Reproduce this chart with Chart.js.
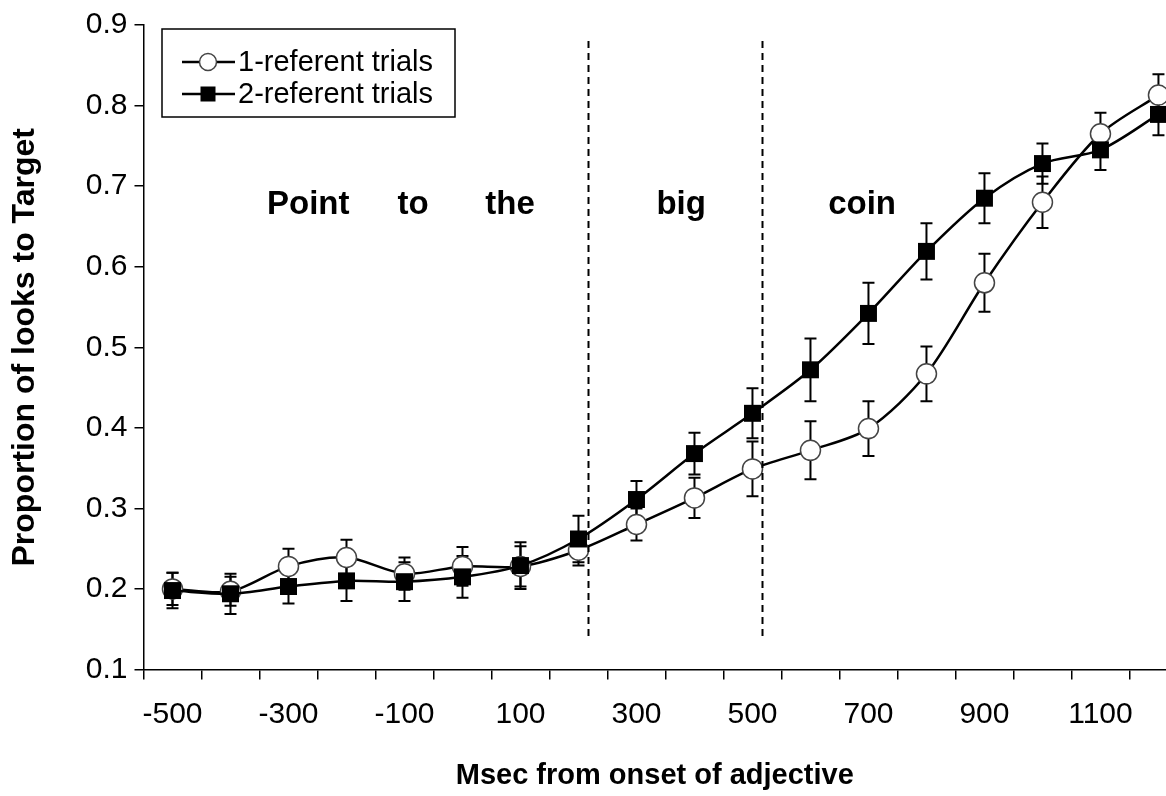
<!DOCTYPE html>
<html><head><meta charset="utf-8">
<script src="https://cdn.jsdelivr.net/npm/chart.js@4"></script>
<style>html,body{margin:0;padding:0;background:#fff;overflow:hidden}#wrap{width:1166px;height:796px;position:relative}canvas{display:block}</style>
</head><body><div id="wrap"><canvas id="c" width="1166" height="796" style="width:1166px;height:796px"></canvas></div>
<script>
// ---- data ----
const timePoints = [-500,-400,-300,-200,-100,0,100,200,300,400,500,600,700,800,900,1000,1100,1200];
const oneRefMeans = [0.200,0.197,0.228,0.239,0.219,0.228,0.228,0.248,0.280,0.313,0.349,0.372,0.399,0.467,0.580,0.680,0.765,0.813];
const oneRefErr   = [0.020,0.018,0.022,0.022,0.020,0.024,0.025,0.019,0.020,0.025,0.034,0.036,0.034,0.034,0.036,0.032,0.026,0.026];
const twoRefMeans = [0.198,0.194,0.203,0.210,0.209,0.215,0.229,0.262,0.311,0.368,0.418,0.472,0.542,0.619,0.685,0.728,0.745,0.789];
const twoRefErr   = [0.022,0.025,0.021,0.025,0.024,0.026,0.029,0.029,0.023,0.026,0.031,0.039,0.038,0.035,0.031,0.025,0.025,0.026];
const seriesNames = ['1-referent trials','2-referent trials'];
const xTickLabels = [-500,-300,-100,100,300,500,700,900,1100];
const xTickBoundaries = [-550,-450,-350,-250,-150,-50,50,150,250,350,450,550,650,750,850,950,1050,1150];
const yTickValues = [0.1,0.2,0.3,0.4,0.5,0.6,0.7,0.8,0.9];
const wordLabels = ['Point','to','the','big','coin'];
const wordPositions = [-266,-85,82,377,689];
const wordLevel = 0.677;
const regionBoundaries = [216,516];
const boundaryRange = [0.141,0.88];
const xTitle = 'Msec from onset of adjective';
const yTitle = 'Proportion of looks to Target';

const FONT = '"Liberation Sans", Arial, Helvetica, sans-serif';
const errs = [oneRefErr, twoRefErr];

const errorBarPlugin = {
  id: 'errorBars',
  beforeDatasetsDraw(chart) {
    const {ctx, scales:{x, y}} = chart;
    ctx.save();
    ctx.strokeStyle = '#000';
    ctx.lineWidth = 2;
    chart.data.datasets.forEach((ds, di) => {
      ds.data.forEach((p, i) => {
        const e = errs[di][i];
        const px = x.getPixelForValue(p.x);
        const yt = y.getPixelForValue(p.y + e);
        const yb = y.getPixelForValue(p.y - e);
        ctx.beginPath();
        ctx.moveTo(px, yt); ctx.lineTo(px, yb);
        ctx.moveTo(px - 6, yt); ctx.lineTo(px + 6, yt);
        ctx.moveTo(px - 6, yb); ctx.lineTo(px + 6, yb);
        ctx.stroke();
      });
    });
    ctx.restore();
  }
};

const annotationPlugin = {
  id: 'annot',
  afterDatasetsDraw(chart) {
    const {ctx, scales:{x, y}} = chart;
    ctx.save();
    ctx.strokeStyle = '#000';
    ctx.lineWidth = 2;
    ctx.setLineDash([7, 5]);
    regionBoundaries.forEach(b => {
      const px = Math.round(x.getPixelForValue(b)) + 0.5;
      ctx.beginPath();
      ctx.moveTo(px, y.getPixelForValue(boundaryRange[1]));
      ctx.lineTo(px, y.getPixelForValue(boundaryRange[0]));
      ctx.stroke();
    });
    ctx.setLineDash([]);
    ctx.fillStyle = '#000';
    ctx.font = 'bold 33px ' + FONT;
    ctx.textAlign = 'center';
    ctx.textBaseline = 'middle';
    wordLabels.forEach((w, i) => {
      ctx.fillText(w, x.getPixelForValue(wordPositions[i]), y.getPixelForValue(wordLevel));
    });
    ctx.restore();
  },
  afterDraw(chart) {
    const {ctx} = chart;
    ctx.save();
    // legend box
    ctx.strokeStyle = '#000';
    ctx.lineWidth = 1.5;
    ctx.fillStyle = '#fff';
    ctx.fillRect(162, 29, 293, 88);
    ctx.strokeRect(162, 29, 293, 88);
    const rows = [62, 94];
    chart.data.datasets.forEach((ds, i) => {
      const yy = rows[i];
      ctx.strokeStyle = '#000';
      ctx.lineWidth = 2.5;
      ctx.beginPath(); ctx.moveTo(182, yy); ctx.lineTo(235, yy); ctx.stroke();
      if (i === 0) {
        ctx.beginPath(); ctx.arc(208, yy, 8.5, 0, Math.PI*2);
        ctx.fillStyle = '#fff'; ctx.fill();
        ctx.lineWidth = 1.5; ctx.strokeStyle = '#444'; ctx.stroke();
      } else {
        ctx.fillStyle = '#000';
        ctx.fillRect(208 - 7.5, yy - 7.5, 15, 15);
      }
      ctx.fillStyle = '#000';
      ctx.font = '29px ' + FONT;
      ctx.textAlign = 'left';
      ctx.textBaseline = 'middle';
      ctx.fillText(seriesNames[i], 238, yy + 1);
    });
    ctx.restore();
  }
};

const chart = new Chart(document.getElementById('c'), {
  type: 'line',
  data: {
    datasets: [
      {
        label: seriesNames[0],
        data: timePoints.map((t, i) => ({x: t, y: oneRefMeans[i]})),
        borderColor: '#000', borderWidth: 2.5,
        pointStyle: 'circle', pointRadius: 10, pointBackgroundColor: '#fff',
        pointBorderColor: '#444', pointBorderWidth: 1.5,
        tension: 0.3, clip: false, order: 2
      },
      {
        label: seriesNames[1],
        data: timePoints.map((t, i) => ({x: t, y: twoRefMeans[i]})),
        borderColor: '#000', borderWidth: 2.5,
        pointStyle: 'rect', pointRadius: 12, pointBackgroundColor: '#000',
        pointBorderColor: '#000', pointBorderWidth: 0,
        tension: 0.3, clip: false, order: 1
      }
    ]
  },
  options: {
    responsive: false,
    animation: false,
    devicePixelRatio: 1,
    layout: {autoPadding: false, padding: {top: 19.5, right: 0, bottom: 0, left: 0}},
    plugins: {legend: {display: false}, tooltip: {enabled: false}},
    scales: {
      x: {
        type: 'linear', min: -550, max: 1213,
        afterBuildTicks(scale) {
          const vals = xTickBoundaries.concat(xTickLabels).concat(timePoints).filter((v, i, a) => a.indexOf(v) === i).sort((a, b) => a - b);
          scale.ticks = vals.map(v => ({value: v}));
        },
        afterFit(scale) { scale.height = 126.5; scale.paddingLeft = 0; scale.paddingRight = 0; },
        border: {display: true, color: '#000', width: 1.5},
        grid: {
          drawOnChartArea: false, drawTicks: true, tickLength: 10, lineWidth: 1.5,
          tickColor: (c) => (c.tick && xTickBoundaries.includes(c.tick.value)) ? '#000' : 'rgba(0,0,0,0)'
        },
        ticks: {
          autoSkip: false, maxRotation: 0, minRotation: 0, padding: 17,
          color: '#000', font: {family: FONT, size: 30},
          callback: (v) => xTickLabels.includes(v) ? String(v) : ''
        },
        title: {display: true, text: xTitle, color: '#000', font: {family: FONT, size: 29, weight: 'bold'}, padding: {top: 0, bottom: 3}}
      },
      y: {
        type: 'linear', min: 0.1, max: 0.9,
        afterBuildTicks(scale) { scale.ticks = yTickValues.map(v => ({value: v})); },
        afterFit(scale) { scale.width = 143.5; },
        border: {display: true, color: '#000', width: 1.5},
        grid: {drawOnChartArea: false, drawTicks: true, tickLength: 9, tickColor: '#000', lineWidth: 1.5},
        ticks: {
          padding: 7, color: '#000', font: {family: FONT, size: 30},
          callback: (v) => Number(v).toFixed(1)
        },
        title: {display: true, text: yTitle, color: '#000', font: {family: FONT, size: 32, weight: 'bold'}, padding: {top: 6, bottom: 0}}
      }
    }
  },
  plugins: [errorBarPlugin, annotationPlugin]
});
</script>
</body></html>
